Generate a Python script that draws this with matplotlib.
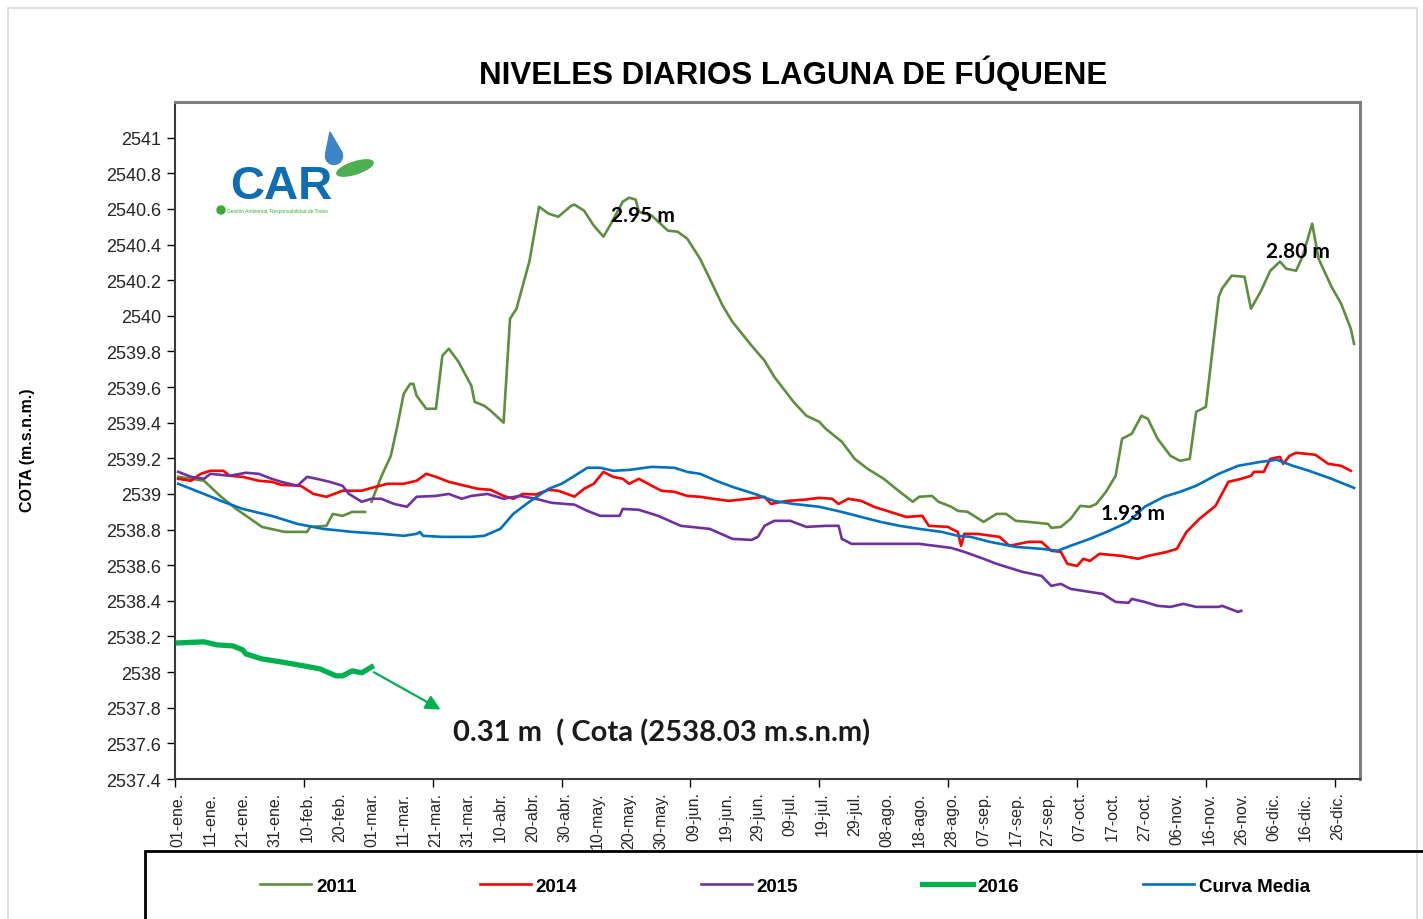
import matplotlib
matplotlib.use("Agg")
import matplotlib.pyplot as plt
import numpy as np
from matplotlib.patches import Rectangle, Circle, Polygon, Ellipse

plt.rcParams['font.family'] = ['Liberation Sans', 'DejaVu Sans']

# day of year (leap-year axis, 366 days) and lake level (m.s.n.m.)
dias_2011 = [1, 9, 14, 19, 27, 34, 41, 42, 47, 49, 52, 55, 59, 60, 61, 64, 67, 69, 71, 73, 74, 75,
             78, 81, 83, 85, 88, 92, 93, 96, 98, 102, 104, 106, 110, 113, 116, 119, 123, 124, 127,
             130, 133, 135, 139, 141, 143, 144, 148, 153, 156, 159, 163, 166, 170, 173, 179, 183,
             186, 192, 196, 200, 202, 207, 211, 215, 220, 225, 229, 231, 235, 237, 241, 243, 246,
             251, 255, 258, 261, 265, 271, 272, 275, 278, 281, 284, 286, 289, 292, 294, 297, 300,
             302, 305, 309, 312, 315, 317, 320, 324, 325, 328, 332, 334, 337, 340, 343, 345, 348,
             350, 353, 355, 359, 362, 365, 366]
cota_2011 = [2539.096, 2539.074, 2538.989, 2538.916, 2538.815, 2538.787, 2538.787, 2538.815,
             2538.821, 2538.888, 2538.877, 2538.899, 2538.899, np.nan, 2538.956, 2539.096,
             2539.214, 2539.380, 2539.562, 2539.618, 2539.618, 2539.551, 2539.478, 2539.478,
             2539.776, 2539.815, 2539.742, 2539.607, 2539.517, 2539.495, 2539.467, 2539.400,
             2539.983, 2540.040, 2540.304, 2540.612, 2540.573, 2540.556, 2540.618, 2540.624,
             2540.590, 2540.506, 2540.444, 2540.506, 2540.641, 2540.663, 2540.652, 2540.584,
             2540.562, 2540.478, 2540.472, 2540.433, 2540.320, 2540.208, 2540.057, 2539.967,
             2539.832, 2539.748, 2539.658, 2539.517, 2539.439, 2539.405, 2539.366, 2539.293,
             2539.197, 2539.141, 2539.085, 2539.012, 2538.956, 2538.984, 2538.989, 2538.956,
             2538.928, 2538.905, 2538.900, 2538.843, 2538.888, 2538.888, 2538.849, 2538.843,
             2538.832, 2538.810, 2538.815, 2538.860, 2538.933, 2538.928, 2538.944, 2539.012,
             2539.102, 2539.310, 2539.338, 2539.439, 2539.422, 2539.310, 2539.214, 2539.186,
             2539.197, 2539.461, 2539.489, 2540.107, 2540.152, 2540.225, 2540.219, 2540.040,
             2540.135, 2540.253, 2540.304, 2540.264, 2540.253, 2540.332, 2540.517, 2540.320,
             2540.163, 2540.068, 2539.927, 2539.843]

dias_2014 = [1, 5, 8, 11, 15, 17, 21, 26, 30, 33, 39, 43, 47, 52, 58, 61, 66, 71, 75, 78, 81, 85,
             90, 94, 98, 102, 105, 108, 112, 116, 119, 124, 127, 130, 133, 136, 139, 141, 144, 148,
             151, 155, 159, 163, 167, 172, 178, 183, 185, 190, 195, 200, 204, 206, 209, 213, 217,
             221, 227, 232, 234, 240, 241, 243, 244, 245, 249, 256, 259, 265, 269, 272, 275, 277,
             280, 282, 284, 287, 294, 299, 302, 308, 311, 314, 318, 323, 327, 331, 334, 335, 338,
             340, 343, 344, 346, 348, 354, 358, 362, 365]
cota_2014 = [2539.085, 2539.074, 2539.113, 2539.130, 2539.130, 2539.102, 2539.096, 2539.074,
             2539.068, 2539.051, 2539.046, 2539.000, 2538.984, 2539.018, 2539.018, 2539.034,
             2539.057, 2539.057, 2539.074, 2539.113, 2539.096, 2539.068, 2539.046, 2539.029,
             2539.023, 2538.989, 2538.973, 2539.000, 2538.997, 2539.023, 2539.018, 2538.985,
             2539.029, 2539.057, 2539.124, 2539.096, 2539.085, 2539.057, 2539.085, 2539.046,
             2539.018, 2539.012, 2538.989, 2538.984, 2538.973, 2538.961, 2538.973, 2538.984,
             2538.944, 2538.961, 2538.967, 2538.978, 2538.973, 2538.944, 2538.973, 2538.961,
             2538.928, 2538.905, 2538.871, 2538.877, 2538.821, 2538.815, 2538.804, 2538.787,
             2538.709, 2538.776, 2538.776, 2538.759, 2538.709, 2538.731, 2538.731, 2538.681,
             2538.675, 2538.608, 2538.596, 2538.636, 2538.624, 2538.664, 2538.652, 2538.636,
             2538.652, 2538.675, 2538.692, 2538.787, 2538.860, 2538.933, 2539.068, 2539.085,
             2539.102, 2539.124, 2539.124, 2539.197, 2539.208, 2539.169, 2539.214, 2539.231,
             2539.220, 2539.169, 2539.158, 2539.130]

dias_2015 = [1, 5, 9, 11, 17, 22, 26, 30, 33, 38, 41, 44, 48, 52, 54, 58, 61, 64, 68, 72, 75, 81,
             85, 89, 92, 97, 102, 107, 112, 117, 124, 128, 132, 138, 139, 144, 150, 157, 166, 173,
             179, 181, 183, 186, 191, 196, 202, 206, 207, 210, 219, 231, 241, 245, 251, 255, 258,
             263, 269, 272, 275, 278, 284, 288, 292, 296, 297, 301, 305, 309, 313, 317, 324, 325,
             330, 331]
cota_2015 = [2539.124, 2539.096, 2539.085, 2539.113, 2539.102, 2539.119, 2539.113, 2539.085,
             2539.068, 2539.046, 2539.096, 2539.085, 2539.068, 2539.046, 2539.000, 2538.956,
             2538.973, 2538.973, 2538.944, 2538.928, 2538.984, 2538.989, 2539.000, 2538.973,
             2538.989, 2539.000, 2538.973, 2538.989, 2538.973, 2538.950, 2538.940, 2538.905,
             2538.877, 2538.877, 2538.916, 2538.911, 2538.877, 2538.821, 2538.804, 2538.748,
             2538.742, 2538.760, 2538.821, 2538.849, 2538.849, 2538.815, 2538.821, 2538.821,
             2538.748, 2538.720, 2538.720, 2538.720, 2538.697, 2538.675, 2538.636, 2538.608,
             2538.591, 2538.563, 2538.540, 2538.484, 2538.495, 2538.467, 2538.450, 2538.439,
             2538.394, 2538.389, 2538.411, 2538.394, 2538.372, 2538.366, 2538.383, 2538.366,
             2538.366, 2538.372, 2538.338, 2538.344]

dias_2016 = [1, 9, 13, 18, 21, 22, 27, 33, 40, 45, 50, 52, 55, 58, 61]
cota_2016 = [2538.164, 2538.170, 2538.153, 2538.147, 2538.125, 2538.102, 2538.074, 2538.057,
             2538.035, 2538.018, 2537.979, 2537.979, 2538.007, 2537.996, 2538.029]

dias_media = [1, 9, 15, 21, 30, 38, 46, 55, 64, 71, 75, 76, 77, 83, 92, 96, 101, 105, 110, 116,
              120, 123, 128, 132, 136, 141, 148, 155, 159, 163, 168, 173, 180, 186, 192, 200, 207,
              213, 219, 225, 231, 238, 243, 247, 253, 261, 269, 274, 278, 284, 290, 296, 301, 307,
              312, 317, 324, 330, 337, 342, 347, 352, 359, 366]
cota_media = [2539.057, 2539.000, 2538.956, 2538.916, 2538.877, 2538.832, 2538.804, 2538.787,
              2538.776, 2538.765, 2538.776, 2538.787, 2538.765, 2538.759, 2538.759, 2538.765,
              2538.804, 2538.888, 2538.956, 2539.029, 2539.057, 2539.090, 2539.147, 2539.147,
              2539.130, 2539.135, 2539.152, 2539.147, 2539.124, 2539.113, 2539.074, 2539.040,
              2539.000, 2538.961, 2538.944, 2538.928, 2538.899, 2538.871, 2538.843, 2538.821,
              2538.804, 2538.787, 2538.765, 2538.759, 2538.731, 2538.703, 2538.692, 2538.681,
              2538.709, 2538.748, 2538.793, 2538.843, 2538.928, 2538.984, 2539.012, 2539.046,
              2539.113, 2539.158, 2539.180, 2539.192, 2539.158, 2539.130, 2539.085, 2539.034]

# tick labels every 10 days
dias_etiqueta = list(range(1, 362, 10))
etiquetas = ['01-ene.', '11-ene.', '21-ene.', '31-ene.', '10-feb.', '20-feb.', '01-mar.',
             '11-mar.', '21-mar.', '31-mar.', '10-abr.', '20-abr.', '30-abr.', '10-may.',
             '20-may.', '30-may.', '09-jun.', '19-jun.', '29-jun.', '09-jul.', '19-jul.',
             '29-jul.', '08-ago.', '18-ago.', '28-ago.', '07-sep.', '17-sep.', '27-sep.',
             '07-oct.', '17-oct.', '27-oct.', '06-nov.', '16-nov.', '26-nov.', '06-dic.',
             '16-dic.', '26-dic.']

fig = plt.figure(figsize=(14.23, 9.2), dpi=100)
ax = fig.add_axes([175 / 1423, 1 - 780 / 920, 1185 / 1423, 677 / 920])

ax.plot(dias_2011, cota_2011, color='#5E8E3E', lw=1.9, label='2011', zorder=3)
ax.plot(dias_2014, cota_2014, color='#FF0000', lw=1.9, label='2014', zorder=3)
ax.plot(dias_2015, cota_2015, color='#7030A0', lw=1.9, label='2015', zorder=3)
ax.plot(dias_2016, cota_2016, color='#00B050', lw=3.8, label='2016', zorder=4)
ax.plot(dias_media, cota_media, color='#0070C0', lw=1.9, label='Curva Media', zorder=3)

# axes
ax.set_xlim(0.07, 367.85)
ax.set_ylim(2537.4, 2541.2)
yt = np.round(np.arange(2537.4, 2541.01, 0.2), 1)
ax.set_yticks(yt)
ax.set_yticklabels([f"{v:g}" for v in yt], fontsize=13, color='#262626')
ax.tick_params(axis='y', direction='out', length=6, width=1, pad=4)
ax.set_xticks(dias_etiqueta)
ax.set_xticklabels(etiquetas, rotation=90, fontsize=11.5, color='#262626')
ax.tick_params(axis='x', which='major', length=0, pad=9)
ax.set_xticks(list(range(0, 361, 40)), minor=True)
ax.tick_params(axis='x', which='minor', direction='out', length=6, width=1)

for s in ['top', 'right']:
    ax.spines[s].set_color('#7F7F7F')
    ax.spines[s].set_linewidth(2.2)
for s in ['left', 'bottom']:
    ax.spines[s].set_color('#3A3A3A')
    ax.spines[s].set_linewidth(1.5)

ax.set_ylabel('COTA (m.s.n.m.)', fontsize=11.5, fontweight='bold')
ax.yaxis.set_label_coords(-0.118, 0.487)

# annotations
for x, y, txt in [(145.3, 2540.568, '2.95 m'), (348.6, 2540.365, '2.80 m'),
                  (297.4, 2538.894, '1.93 m')]:
    ax.text(x, y, txt, fontsize=15, fontweight='bold', family='Lato',
            ha='center', va='center', zorder=5)
ax.text(86.4, 2537.664, '0.31 m  ( Cota (2538.03 m.s.n.m)', fontsize=21, fontweight='bold',
        family='Lato', color='#1A1A1A', ha='left', va='center', zorder=5)
ax.annotate('', xy=(83.2, 2537.782), xytext=(61, 2538.007),
            arrowprops=dict(arrowstyle='-|>', color='#00B050', lw=1.6, mutation_scale=22))

fig.text(793 / 1423, 1 - 73 / 920, 'NIVELES DIARIOS LAGUNA DE FÚQUENE',
         fontsize=22.5, fontweight='bold', ha='center', va='center')

# logo CAR
lg = fig.add_axes([190 / 1423, 1 - 245 / 920, 200 / 1423, 135 / 920])
lg.set_xlim(190, 390)
lg.set_ylim(245, 110)
lg.axis('off')
lg.text(281, 199, 'CAR', fontsize=34, fontweight='bold', color='#0E6DB3',
        ha='center', va='baseline')
lg.add_patch(Circle((221, 211), 4, color='#3AAA35'))
lg.text(227, 209.5, 'Gestión Ambiental, Responsabilidad de Todos', fontsize=3.5,
        color='#3AAA35', ha='left', va='top')
lg.add_patch(Circle((334, 157), 8.5, color='#3D85C6'))
lg.add_patch(Polygon([(330, 133), (325.7, 154), (342.3, 154)], closed=True, color='#3D85C6'))
lg.add_patch(Ellipse((355, 169), 38, 12, angle=-18, color='#4CAF50'))

# outer border and legend box
fig.patches.append(Rectangle((8 / 1423, -0.01), 1409 / 1423, 1.0 - 9 / 920 + 0.01,
                             transform=fig.transFigure, fill=False, edgecolor='#D9D9D9',
                             lw=1.2, zorder=0))
fig.patches.append(Rectangle((145 / 1423, -0.02), 1.0, 0.02 + 1 - 852 / 920,
                             transform=fig.transFigure, fill=False, edgecolor='black',
                             lw=2, zorder=1))

h, l = ax.get_legend_handles_labels()
fig.legend(h, l, loc='center', bbox_to_anchor=(785 / 1423, 1 - 887 / 920), ncol=5,
           frameon=False, prop={'weight': 'bold', 'size': 13.5}, handlelength=2.7,
           handletextpad=0.27, columnspacing=6.6)

fig.savefig('out.png', dpi=100)
